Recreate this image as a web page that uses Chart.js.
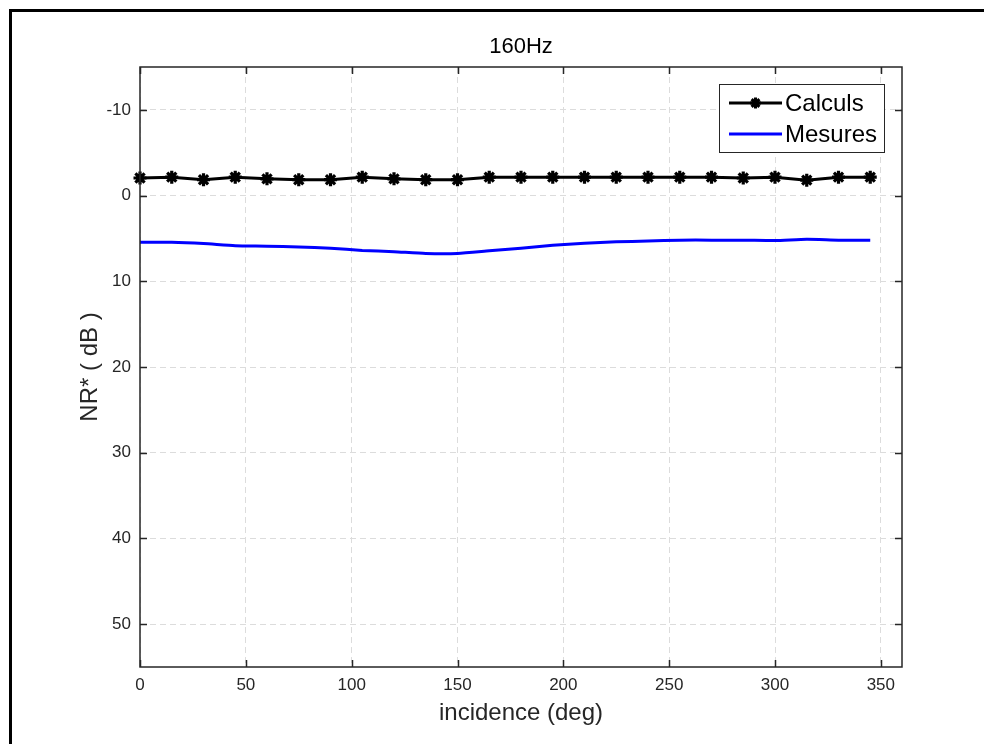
<!DOCTYPE html>
<html>
<head>
<meta charset="utf-8">
<script src="https://cdn.jsdelivr.net/npm/chart.js@4.4.1/dist/chart.umd.min.js"></script>
<style>
  html, body { margin: 0; padding: 0; background: #fff; }
  #wrap { width: 984px; height: 744px; position: relative; }
</style>
</head>
<body>
<div id="wrap"><canvas id="c" width="984" height="744"></canvas></div>
<script>
// Incidence angles (deg)
const incidence = [0, 15, 30, 45, 60, 75, 90, 105, 120, 135, 150, 165,
                   180, 195, 210, 225, 240, 255, 270, 285, 300, 315, 330, 345];
// Computed noise reduction (dB)
const calculs = [-2.05, -2.15, -1.85, -2.15, -1.95, -1.85, -1.85, -2.15, -1.95, -1.85, -1.85, -2.15,
                 -2.15, -2.15, -2.15, -2.15, -2.15, -2.15, -2.15, -2.05, -2.15, -1.8, -2.15, -2.15];
// Measured noise reduction (dB)
const mesures = [5.45, 5.45, 5.6, 5.85, 5.9, 6.0, 6.15, 6.4, 6.55, 6.75, 6.75, 6.45,
                 6.15, 5.8, 5.55, 5.4, 5.3, 5.2, 5.2, 5.2, 5.25, 5.1, 5.2, 5.2];
const xTicks = [0, 50, 100, 150, 200, 250, 300, 350];
const yTicks = [-10, 0, 10, 20, 30, 40, 50];
const seriesNames = ['Calculs', 'Mesures'];
const chartTitle = '160Hz';

const FONT = '"Liberation Sans", Arial, Helvetica, sans-serif';
const AXIS = '#262626';

// Figure frame, title, axes box, inward ticks and legend
const decorations = {
  id: 'decorations',
  afterDraw(chart) {
    const ctx = chart.ctx;
    const a = chart.chartArea;
    const xs = chart.scales.x, ys = chart.scales.y;
    ctx.save();
    // outer figure frame
    ctx.strokeStyle = '#000';
    ctx.lineWidth = 3;
    ctx.beginPath();
    ctx.moveTo(10.5, 750);
    ctx.lineTo(10.5, 10.5);
    ctx.lineTo(990, 10.5);
    ctx.stroke();

    // title centred over the plot area
    ctx.fillStyle = '#000';
    ctx.font = '22px ' + FONT;
    ctx.textAlign = 'center';
    ctx.textBaseline = 'middle';
    ctx.fillText(chartTitle, (a.left + a.right) / 2, 47);

    // axes box
    ctx.strokeStyle = AXIS;
    ctx.lineWidth = 1.5;
    ctx.strokeRect(a.left, a.top, a.right - a.left, a.bottom - a.top);
    // inward ticks
    const tl = 7;
    ctx.beginPath();
    xTicks.forEach(v => {
      const px = Math.round(xs.getPixelForValue(v)) + 0.5;
      ctx.moveTo(px, a.bottom); ctx.lineTo(px, a.bottom - tl);
      ctx.moveTo(px, a.top); ctx.lineTo(px, a.top + tl);
    });
    yTicks.forEach(v => {
      const py = Math.round(ys.getPixelForValue(v)) + 0.5;
      ctx.moveTo(a.left, py); ctx.lineTo(a.left + tl, py);
      ctx.moveTo(a.right, py); ctx.lineTo(a.right - tl, py);
    });
    ctx.stroke();

    // legend
    const lx = 719, ly = 84, lw = 165, lh = 68;
    ctx.fillStyle = '#fff';
    ctx.fillRect(lx, ly, lw, lh);
    ctx.strokeStyle = AXIS;
    ctx.lineWidth = 1;
    ctx.strokeRect(lx + 0.5, ly + 0.5, lw, lh);
    const rows = [ly + 19, ly + 50];
    chart.data.datasets.forEach((ds, i) => {
      const y = rows[i];
      ctx.strokeStyle = ds.borderColor;
      ctx.lineWidth = ds.borderWidth;
      ctx.beginPath();
      ctx.moveTo(729, y); ctx.lineTo(782, y);
      ctx.stroke();
      if (ds.pointRadius > 0) {
        Chart.helpers.drawPoint(ctx, {
          pointStyle: ds.pointStyle, radius: ds.pointRadius - 1,
          borderWidth: ds.pointBorderWidth, rotation: 0
        }, 755.5, y);
      }
      ctx.fillStyle = '#000';
      ctx.font = '24px ' + FONT;
      ctx.textBaseline = 'middle';
      ctx.textAlign = 'left';
      ctx.fillText(ds.label, 785, y + 1);
    });
    ctx.restore();
  }
};

new Chart(document.getElementById('c'), {
  type: 'line',
  data: {
    datasets: [
      {
        label: seriesNames[0],
        data: incidence.map((x, i) => ({ x, y: calculs[i] })),
        borderColor: '#000',
        backgroundColor: '#000',
        borderWidth: 3,
        pointStyle: 'star',
        pointRadius: 6.5,
        pointBorderWidth: 3.2,
        pointBorderColor: '#000',
        tension: 0
      },
      {
        label: seriesNames[1],
        data: incidence.map((x, i) => ({ x, y: mesures[i] })),
        borderColor: '#0000ff',
        backgroundColor: '#0000ff',
        borderWidth: 3,
        pointRadius: 0,
        tension: 0.2
      }
    ]
  },
  options: {
    responsive: false,
    animation: false,
    clip: false,
    layout: { padding: { left: 0, right: 82, top: 67, bottom: 0 } },
    plugins: {
      legend: { display: false },
      tooltip: { enabled: false },
      title: { display: false }
    },
    scales: {
      x: {
        type: 'linear',
        min: 0, max: 360,
        afterBuildTicks(s) { s.ticks = xTicks.map(v => ({ value: v })); },
        afterFit(s) { s.height = 77; },
        grid: { color: '#dcdcdc', lineWidth: 1, drawTicks: false },
        border: { display: false, dash: [6, 4] },
        ticks: {
          color: '#262626', padding: 8,
          font: { family: FONT, size: 17 },
          maxRotation: 0, autoSkip: false
        },
        title: {
          display: true, text: 'incidence (deg)', color: '#262626',
          font: { family: FONT, size: 24, lineHeight: 1.2 },
          padding: { top: 0, bottom: 16 }
        }
      },
      y: {
        type: 'linear',
        reverse: true,
        min: -15, max: 55,
        afterBuildTicks(s) { s.ticks = yTicks.map(v => ({ value: v })); },
        afterFit(s) { s.width = 140; },
        grid: { color: '#dcdcdc', lineWidth: 1, drawTicks: false },
        border: { display: false, dash: [6, 4] },
        ticks: {
          color: '#262626', padding: 9,
          font: { family: FONT, size: 17 }
        },
        title: {
          display: true, text: 'NR* ( dB )', color: '#262626',
          font: { family: FONT, size: 24, lineHeight: 1.2 },
          padding: { top: 76, bottom: 0 }
        }
      }
    }
  },
  plugins: [decorations]
});
</script>
</body>
</html>
